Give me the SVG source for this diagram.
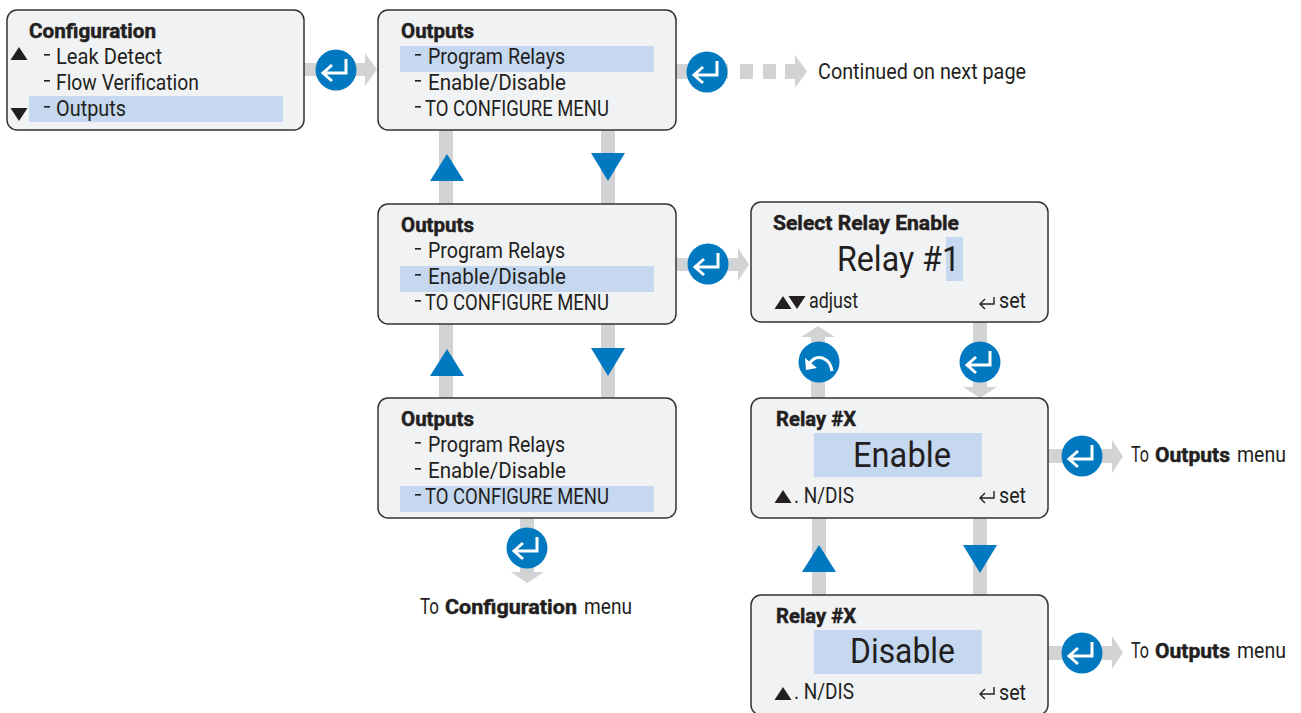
<svg xmlns="http://www.w3.org/2000/svg" width="1301" height="713" viewBox="0 0 1301 713">
<style>
text{font-family:"Liberation Sans Narrow","Roboto","Liberation Sans",sans-serif;fill:#231f20;font-size:21.5px}
.t{font-weight:bold;font-size:20px;stroke:#231f20;stroke-width:.45px}
.big{font-size:35px}
.box{fill:#f1f2f4;stroke:#333;stroke-width:1.5}
.hl{fill:#c5d8f0}
.g{fill:#d1d3d4}
.bl{fill:#0079c1}
.k{fill:#231f20}
.dash{fill:#231f20}
.ic{fill:none;stroke:#fff;stroke-width:3}
.sm{fill:none;stroke:#231f20;stroke-width:1.4}
</style>
<defs>
<g id="ret"><circle r="20.5" class="bl"/><path class="ic" d="M10-11V3H-11M-4-5L-13 3L-4 11"/></g>
<g id="back"><circle r="20.5" class="bl"/><path class="ic" d="M13 9C11-4-2-10-10 2"/><path d="M-14-4L-13 8L-2 6Z" fill="#fff"/></g>
<g id="setk"><path class="sm" d="M15-2V5H1M6 0L1 5L6 10"/></g>
<path id="up" class="bl" d="M0 0L17 27H-17Z"/>
<path id="dn" class="bl" d="M0 28L17 0H-17Z"/>
<path id="ku" class="k" d="M0 0L8.500 13H-8.500Z"/>
<path id="kd" class="k" d="M0 13L8.500 0H-8.500Z"/>
<rect id="d" width="6" height="1.6" class="dash"/>
</defs>

<g id="connectors">
<path class="g" d="M304 63H365V53L377 69.500L365 86V76H304Z"/>
<path class="g" d="M676 64H728V79H676ZM740 64H753V79H740ZM763 64H776V79H763ZM785 64H795V55L807 71.500L795 88V79H785Z"/>
<path class="g" d="M676 258H738V248L749 264.500L738 281V271H676Z"/>
<rect class="g" x="439" y="130" width="14" height="74"/><rect class="g" x="601" y="130" width="14" height="74"/>
<rect class="g" x="439" y="324" width="14" height="74"/><rect class="g" x="601" y="324" width="14" height="74"/>
<path class="g" d="M520 518H534V572H544L527 583L511 572H520Z"/>
<path class="g" d="M811 398V337H801L818 326L835 337H825V398Z"/>
<path class="g" d="M973 322H987V387H997L980 398L963 387H973Z"/>
<rect class="g" x="812" y="518" width="14" height="77"/><rect class="g" x="973" y="518" width="14" height="77"/>
<path class="g" d="M1048 449H1112V440L1123 456.500L1112 473V463H1048Z"/>
<path class="g" d="M1048 646H1112V636L1123 652.500L1112 669V660H1048Z"/>
<use href="#up" x="447" y="154"/><use href="#dn" x="608" y="153"/>
<use href="#up" x="447" y="349"/><use href="#dn" x="608" y="348"/>
<use href="#up" x="819" y="545"/><use href="#dn" x="980" y="545"/>
<use href="#ret" x="336" y="70"/><use href="#ret" x="707" y="72"/><use href="#ret" x="708" y="264"/>
<use href="#ret" x="527" y="548"/><use href="#back" x="819" y="362"/><use href="#ret" x="980" y="362"/>
<use href="#ret" x="1082" y="456"/><use href="#ret" x="1082" y="653"/>
</g>

<g id="node-configuration">
<rect class="box" x="7" y="10" width="297" height="120" rx="10"/>
<rect class="hl" x="29" y="96" width="254" height="26"/>
<text class="t" x="29" y="38" textLength="127" lengthAdjust="spacingAndGlyphs">Configuration</text>
<use href="#ku" x="19" y="47"/><use href="#kd" x="19" y="108"/>
<use href="#d" x="44" y="54"/><text x="56" y="64" textLength="106" lengthAdjust="spacingAndGlyphs">Leak Detect</text>
<use href="#d" x="44" y="80"/><text x="56" y="90" textLength="143" lengthAdjust="spacingAndGlyphs">Flow Verification</text>
<use href="#d" x="44" y="106"/><text x="56" y="116" textLength="70" lengthAdjust="spacingAndGlyphs">Outputs</text>
</g>

<g id="node-outputs-program">
<rect class="box" x="378" y="10" width="298" height="120" rx="10"/>
<rect class="hl" x="400" y="46" width="254" height="26"/>
<text class="t" x="401" y="38" textLength="73" lengthAdjust="spacingAndGlyphs">Outputs</text>
<use href="#d" x="415" y="54"/><text x="428" y="64" textLength="137" lengthAdjust="spacingAndGlyphs">Program Relays</text>
<use href="#d" x="415" y="80"/><text x="428" y="90" textLength="138" lengthAdjust="spacingAndGlyphs">Enable/Disable</text>
<use href="#d" x="415" y="106"/><text x="425" y="116" textLength="184" lengthAdjust="spacingAndGlyphs">TO CONFIGURE MENU</text>
</g>

<g id="node-outputs-enable">
<rect class="box" x="378" y="204" width="298" height="120" rx="10"/>
<rect class="hl" x="400" y="266" width="254" height="26"/>
<text class="t" x="401" y="232" textLength="73" lengthAdjust="spacingAndGlyphs">Outputs</text>
<use href="#d" x="415" y="248"/><text x="428" y="258" textLength="137" lengthAdjust="spacingAndGlyphs">Program Relays</text>
<use href="#d" x="415" y="274"/><text x="428" y="284" textLength="138" lengthAdjust="spacingAndGlyphs">Enable/Disable</text>
<use href="#d" x="415" y="300"/><text x="425" y="310" textLength="184" lengthAdjust="spacingAndGlyphs">TO CONFIGURE MENU</text>
</g>

<g id="node-outputs-configure">
<rect class="box" x="378" y="398" width="298" height="120" rx="10"/>
<rect class="hl" x="400" y="486" width="254" height="26"/>
<text class="t" x="401" y="426" textLength="73" lengthAdjust="spacingAndGlyphs">Outputs</text>
<use href="#d" x="415" y="442"/><text x="428" y="452" textLength="137" lengthAdjust="spacingAndGlyphs">Program Relays</text>
<use href="#d" x="415" y="468"/><text x="428" y="478" textLength="138" lengthAdjust="spacingAndGlyphs">Enable/Disable</text>
<use href="#d" x="415" y="494"/><text x="425" y="504" textLength="184" lengthAdjust="spacingAndGlyphs">TO CONFIGURE MENU</text>
</g>

<g id="node-select-relay">
<rect class="box" x="751" y="202" width="297" height="120" rx="10"/>
<rect class="hl" x="946" y="237" width="17" height="44"/>
<text class="t" x="773" y="230" textLength="186" lengthAdjust="spacingAndGlyphs">Select Relay Enable</text>
<text class="big" x="837" y="271" textLength="123" lengthAdjust="spacingAndGlyphs">Relay #1</text>
<use href="#ku" x="783" y="296"/><use href="#kd" x="797" y="296"/>
<text x="809" y="308" textLength="49" lengthAdjust="spacingAndGlyphs">adjust</text>
<use href="#setk" x="979" y="299"/><text x="999" y="308" textLength="27" lengthAdjust="spacingAndGlyphs">set</text>
</g>

<g id="node-relay-enable">
<rect class="box" x="751" y="398" width="297" height="120" rx="10"/>
<rect class="hl" x="814" y="433" width="168" height="44"/>
<text class="t" x="776" y="426" textLength="80" lengthAdjust="spacingAndGlyphs">Relay #X</text>
<text class="big" x="853" y="467" textLength="98" lengthAdjust="spacingAndGlyphs">Enable</text>
<use href="#ku" x="783" y="490"/>
<text x="794" y="503" textLength="60" lengthAdjust="spacingAndGlyphs">. N/DIS</text>
<use href="#setk" x="979" y="493"/><text x="999" y="503" textLength="27" lengthAdjust="spacingAndGlyphs">set</text>
</g>

<g id="node-relay-disable">
<rect class="box" x="751" y="595" width="297" height="120" rx="10"/>
<rect class="hl" x="814" y="630" width="168" height="44"/>
<text class="t" x="776" y="623" textLength="80" lengthAdjust="spacingAndGlyphs">Relay #X</text>
<text class="big" x="850" y="663" textLength="105" lengthAdjust="spacingAndGlyphs">Disable</text>
<use href="#ku" x="783" y="687"/>
<text x="794" y="699" textLength="60" lengthAdjust="spacingAndGlyphs">. N/DIS</text>
<use href="#setk" x="979" y="689"/><text x="999" y="700" textLength="27" lengthAdjust="spacingAndGlyphs">set</text>
</g>

<g id="labels">
<text y="614"><tspan x="420" textLength="19" lengthAdjust="spacingAndGlyphs">To</tspan> <tspan x="445" class="t" textLength="132" lengthAdjust="spacingAndGlyphs">Configuration</tspan> <tspan x="584" textLength="48" lengthAdjust="spacingAndGlyphs">menu</tspan></text>
<text y="462"><tspan x="1131" textLength="18" lengthAdjust="spacingAndGlyphs">To</tspan> <tspan x="1155" class="t" textLength="75" lengthAdjust="spacingAndGlyphs">Outputs</tspan> <tspan x="1237" textLength="49" lengthAdjust="spacingAndGlyphs">menu</tspan></text>
<text y="658"><tspan x="1131" textLength="18" lengthAdjust="spacingAndGlyphs">To</tspan> <tspan x="1155" class="t" textLength="75" lengthAdjust="spacingAndGlyphs">Outputs</tspan> <tspan x="1237" textLength="49" lengthAdjust="spacingAndGlyphs">menu</tspan></text>
<text x="818" y="79" textLength="208" lengthAdjust="spacingAndGlyphs">Continued on next page</text>
</g>
</svg>
